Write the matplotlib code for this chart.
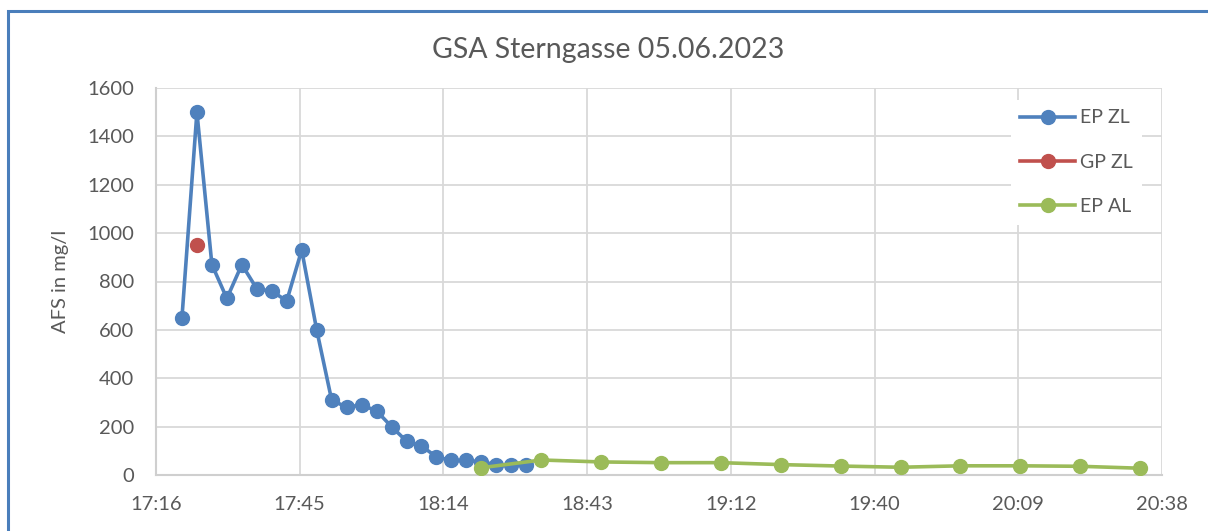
import pandas as pd
import numpy as np
import matplotlib
matplotlib.use('Agg')
import matplotlib.pyplot as plt
from matplotlib.patches import Rectangle

day = '2023-06-05 '

# EP ZL samples
ep_zl_times = ['17:22', '17:25', '17:28', '17:31', '17:34', '17:37', '17:40', '17:43',
               '17:46', '17:49', '17:52', '17:55', '17:58', '18:01', '18:04', '18:07',
               '18:10', '18:13', '18:16', '18:19', '18:22', '18:25', '18:28', '18:31']
ep_zl_vals = [650, 1500, 870, 730, 870, 770, 760, 720,
              930, 600, 310, 280, 290, 265, 200, 140,
              120, 75, 60, 60, 55, 42, 42, 42]

# GP ZL sample
gp_zl_times = ['17:25']
gp_zl_vals = [950]

# EP AL samples
ep_al_times = ['18:22', '18:34', '18:46', '18:58', '19:10', '19:22',
               '19:34', '19:46', '19:58', '20:10', '20:22', '20:34']
ep_al_vals = [30, 62, 54, 51, 51, 43, 37, 32, 38, 38, 36, 28]

# x axis ticks (Excel style, 0.02 day steps)
tick_times = ['17:16:48', '17:45:36', '18:14:24', '18:43:12',
              '19:12:00', '19:40:48', '20:09:36', '20:38:24']
tick_labels = ['17:16', '17:45', '18:14', '18:43', '19:12', '19:40', '20:09', '20:38']
y_ticks = [0, 200, 400, 600, 800, 1000, 1200, 1400, 1600]

def to_dt(ts):
    return pd.to_datetime([day + t for t in ts])

txt = '#595959'
grid = '#d9d9d9'
plt.rcParams['font.family'] = ['Lato', 'DejaVu Sans']

fig = plt.figure(figsize=(12.08, 5.31), dpi=100)
ax = fig.add_axes([156/1208, 1 - 475/531, (1162-156)/1208, (475-88)/531])

ax.plot(to_dt(ep_zl_times), ep_zl_vals, '-o', color='#4f81bd', lw=2.6, ms=10, label='EP ZL', zorder=3)
ax.plot(to_dt(gp_zl_times), gp_zl_vals, '-o', color='#c0504d', lw=2.6, ms=10, label='GP ZL', zorder=4)
ax.plot(to_dt(ep_al_times), ep_al_vals, '-o', color='#9bbb59', lw=2.6, ms=10, label='EP AL', zorder=5)

ticks = to_dt(tick_times)
ax.set_xlim(ticks[0], ticks[-1])
ax.set_xticks(ticks)
ax.set_xticklabels(tick_labels)
ax.set_ylim(0, 1600)
ax.set_yticks(y_ticks)

ax.grid(True, color=grid, lw=1.3)
ax.set_axisbelow(True)
for s in ['top', 'right']:
    ax.spines[s].set_visible(False)
for s in ['left', 'bottom']:
    ax.spines[s].set_color('#cfcfcf')
    ax.spines[s].set_linewidth(1.5)
ax.tick_params(length=0, labelsize=14.5, labelcolor=txt)
ax.tick_params(axis='x', pad=15)
ax.tick_params(axis='y', pad=16)

ax.set_ylabel('AFS in mg/l', fontsize=14.5, color=txt, labelpad=13)
fig.text(608/1208, 1 - 50/531, 'GSA Sterngasse 05.06.2023', fontsize=20.5, color=txt,
         ha='center', va='center')

leg = ax.legend(loc='upper left', bbox_to_anchor=(1001/1208, 1 - 90/531),
                bbox_transform=fig.transFigure, frameon=True, fontsize=14,
                handlelength=2.8, labelspacing=1.4, borderpad=0.5, handletextpad=0.26)
leg.get_frame().set_facecolor('white')
leg.get_frame().set_edgecolor('none')
leg.get_frame().set_alpha(1)
for t in leg.get_texts():
    t.set_color(txt)

# blue outer border (only left and top visible)
fig.patches.append(Rectangle((8/1208, -0.2), 1.0, 1.2 - 11/531, transform=fig.transFigure,
                             fill=False, edgecolor='#4a7ebb', lw=2.2))

fig.savefig('out.png', dpi=100)
